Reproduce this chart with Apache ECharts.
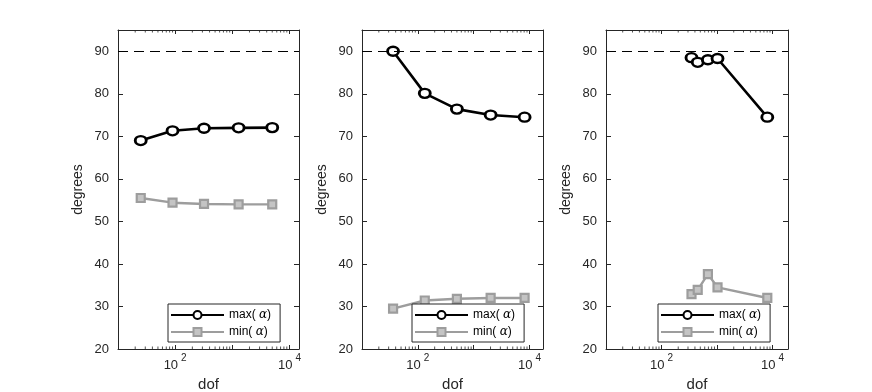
<!DOCTYPE html>
<html>
<head>
<meta charset="utf-8">
<script src="https://cdn.jsdelivr.net/npm/echarts@6/dist/echarts.min.js"></script>
<style>
  html, body { margin: 0; padding: 0; background: #fff; }
  #chart { width: 872px; height: 392px; }
</style>
</head>
<body>
<div id="chart"></div>
<script>
// data
const seriesNames = ['max( α)', 'min( α)']
const xMaxLims = [14700, 17400, 19000]

const dof1 = [25, 90, 320, 1290, 5000]
const maxA1 = [69.0, 71.3, 71.9, 72.0, 72.05]
const minA1 = [55.5, 54.4, 54.1, 54.0, 54.0]

const dof2 = [36, 133, 500, 2010, 8150]
const maxA2 = [90.0, 80.1, 76.4, 75.0, 74.5]
const minA2 = [29.5, 31.4, 31.8, 32.0, 32.0]

const dof3 = [347, 449, 685, 1021, 8050]
const maxA3 = [88.5, 87.4, 88.0, 88.3, 74.5]
const minA3 = [32.9, 33.9, 37.6, 34.5, 32.0]

const yTicks = [20, 30, 40, 50, 60, 70, 80, 90]
const refLine = 90

const panels = [
  { dof: dof1, maxA: maxA1, minA: minA1 },
  { dof: dof2, maxA: maxA2, minA: minA2 },
  { dof: dof3, maxA: maxA3, minA: minA3 },
]

const FONT = '"Liberation Sans", Arial, Helvetica, sans-serif'
const AX = '#262626'
const gridPos = [
  { left: 118, top: 30, width: 181, height: 319 },
  { left: 362, top: 30, width: 181, height: 319 },
  { left: 606, top: 30, width: 182, height: 319 },
]

// minor ticks for log axis (2..9 in each decade)
const minorTicks = []
for (let d = 10; d <= 10000; d *= 10) {
  for (let k = 2; k <= 9; k++) minorTicks.push(d * k)
}

const chart = echarts.init(document.getElementById('chart'), null, { renderer: 'canvas' })

const grid = [], xAxis = [], yAxis = [], series = [], legend = []

panels.forEach((p, i) => {
  grid.push(Object.assign({ containLabel: false, outerBoundsMode: 'none' }, gridPos[i]))

  // bottom x axis (log)
  xAxis.push({
    type: 'log', logBase: 10, gridIndex: i, min: 10, max: xMaxLims[i],
    name: 'dof', nameLocation: 'middle', nameGap: 27,
    nameTextStyle: { fontSize: 15, color: AX, fontFamily: FONT },
    axisLine: { show: true, lineStyle: { color: AX, width: 1 } },
    axisTick: { show: true, inside: true, length: 4, lineStyle: { color: AX } },
    splitLine: { show: false },
    axisLabel: {
      margin: 4, color: AX, fontFamily: FONT,
      formatter: v => (v === 100 ? '{b|10}{s|2}' : v === 10000 ? '{b|10}{s|4}' : ''),
      rich: {
        b: { fontSize: 13, lineHeight: 19, verticalAlign: 'bottom', color: AX, fontFamily: FONT },
        s: { fontSize: 10, lineHeight: 10, verticalAlign: 'top', color: AX, fontFamily: FONT, padding: [0, 0, 0, 3] },
      },
    },
  })
  // top x axis (mirror)
  xAxis.push({
    type: 'log', logBase: 10, gridIndex: i, min: 10, max: xMaxLims[i], position: 'top',
    axisLine: { show: true, lineStyle: { color: AX, width: 1 } },
    axisTick: { show: true, inside: true, length: 4, lineStyle: { color: AX } },
    axisLabel: { show: false }, splitLine: { show: false },
  })
  // left y axis
  yAxis.push({
    type: 'value', gridIndex: i, min: 20, max: 95, interval: 10,
    name: 'degrees', nameLocation: 'middle', nameGap: 33,
    nameTextStyle: { fontSize: 14, color: AX, fontFamily: FONT },
    axisLine: { show: true, lineStyle: { color: AX, width: 1 } },
    axisTick: { show: true, inside: true, length: 5, lineStyle: { color: AX } },
    splitLine: { show: false },
    axisLabel: {
      margin: 9, fontSize: 13, color: AX, fontFamily: FONT,
      formatter: v => (yTicks.includes(v) ? String(v) : ''),
    },
  })
  // right y axis (mirror)
  yAxis.push({
    type: 'value', gridIndex: i, min: 20, max: 95, interval: 10, position: 'right',
    axisLine: { show: true, lineStyle: { color: AX, width: 1 } },
    axisTick: { show: true, inside: true, length: 5, lineStyle: { color: AX } },
    axisLabel: { show: false }, splitLine: { show: false },
  })

  const xi = i * 2, yi = i * 2

  series.push({
    name: seriesNames[0], type: 'line', xAxisIndex: xi, yAxisIndex: yi,
    data: p.dof.map((d, k) => [d, p.maxA[k]]),
    symbol: 'circle', symbolSize: [11, 9],
    lineStyle: { color: '#000', width: 2.6 },
    itemStyle: { color: '#fff', borderColor: '#000', borderWidth: 2.6 },
    z: 4,
    markLine: {
      silent: true, symbol: ['none', 'none'], label: { show: false },
      lineStyle: { color: '#000', width: 1, type: [10, 6] },
      data: [{ yAxis: refLine }],
    },
  })
  series.push({
    name: seriesNames[1], type: 'line', xAxisIndex: xi, yAxisIndex: yi,
    data: p.dof.map((d, k) => [d, p.minA[k]]),
    symbol: 'rect', symbolSize: 8,
    lineStyle: { color: '#9d9d9d', width: 2.4 },
    itemStyle: { color: '#c4c4c4', borderColor: '#9d9d9d', borderWidth: 2.2 },
    z: 3,
  })
  // minor log ticks on bottom and top edges
  series.push({
    type: 'custom', xAxisIndex: xi, yAxisIndex: yi, silent: true, clip: false,
    data: minorTicks.filter(v => v < xMaxLims[i]).map(v => [v, 20]),
    encode: { x: 0, y: 1 },
    renderItem: (params, api) => {
      const cs = params.coordSys
      const x = api.coord([api.value(0), 20])[0]
      const st = { stroke: AX, lineWidth: 0.8 }
      return {
        type: 'group',
        children: [
          { type: 'line', shape: { x1: x, y1: cs.y + cs.height, x2: x, y2: cs.y + cs.height - 2.5 }, style: st },
          { type: 'line', shape: { x1: x, y1: cs.y, x2: x, y2: cs.y + 2.5 }, style: st },
        ],
      }
    },
  })

  legend.push({
    left: gridPos[i].left + 50 + (i === 2 ? 2 : 0), top: 304,
    orient: 'vertical', data: seriesNames,
    itemWidth: 53, itemHeight: 10, itemGap: 5,
    padding: [5, 9, 4, 2],
    borderColor: AX, borderWidth: 1, backgroundColor: '#fff',
    selectedMode: false,
    formatter: name => name.replace('α', '{a|α}'),
    textStyle: {
      fontSize: 12, color: '#000', fontFamily: FONT,
      rich: { a: { fontSize: 12, fontStyle: 'italic', fontFamily: '"DejaVu Serif", serif', color: '#000' } },
    },
  })
})

chart.setOption({
  backgroundColor: '#fff',
  animation: false,
  grid, xAxis, yAxis, series, legend,
})
</script>
</body>
</html>
